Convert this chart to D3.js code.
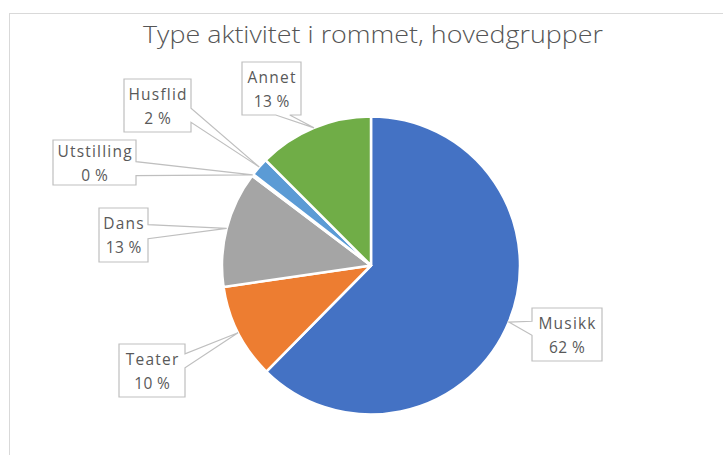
<!DOCTYPE html>
<html>
<head>
<meta charset="utf-8">
<script src="https://cdn.jsdelivr.net/npm/d3@7"></script>
<style>
  html, body { margin: 0; padding: 0; background: #fff; }
  svg { display: block; }
</style>
</head>
<body>
<div id="chart"></div>
<script>
// data
const categories = ["Musikk", "Teater", "Dans", "Utstilling", "Husflid", "Annet"];
const shares = [62.4, 10.3, 12.6, 0.2, 2.0, 12.5];
const sliceColors = ["#4472C4", "#ED7D31", "#A5A5A5", "#FFC000", "#5B9BD5", "#70AD47"];

// callout layout (box centre relative to pie centre, box size)
const labelDx = [196, -219, -247.5, -276.5, -213.5, -99.5];
const labelDy = [69, 105, -30.5, -103, -160, -177];
const labelW = [70, 66, 49, 83, 67, 59];
const labelH = [53, 53, 54, 45, 53, 53];

const width = 723, height = 455,
      cx = 371, cy = 265.5, radius = 149;

let svg = d3.select("#chart").append("svg")
  .attr("width", width)
  .attr("height", height);

// chart area border
svg.append("rect")
  .attr("x", 9.5).attr("y", 13.5)
  .attr("width", width + 20).attr("height", height + 20)
  .attr("fill", "#fff")
  .attr("stroke", "#d9d9d9");

// title
svg.append("text")
  .attr("x", 373).attr("y", 43)
  .attr("text-anchor", "middle")
  .attr("font-family", "'Open Sans', sans-serif")
  .attr("font-weight", 300)
  .attr("font-size", 24.5)
  .attr("fill", "#555")
  .attr("textLength", 460)
  .attr("lengthAdjust", "spacingAndGlyphs")
  .text("Type aktivitet i rommet, hovedgrupper");

let total = d3.sum(shares);
let pie = d3.pie().sort(null).value(d => d)(shares);
let arc = d3.arc().innerRadius(0).outerRadius(radius);

let g = svg.append("g").attr("transform", `translate(${cx},${cy})`);

g.selectAll("path.slice")
  .data(pie)
  .enter()
  .append("path")
  .attr("class", "slice")
  .attr("d", arc)
  .attr("fill", (d, i) => sliceColors[i])
  .attr("stroke", "#fff")
  .attr("stroke-width", 2.5)
  .attr("stroke-linejoin", "round");

// callout boxes with a wedge pointing at the slice edge
const calloutPath = (tx, ty, x0, y0, x1, y1) => {
  let hw = 7,
      ox = tx > x1 ? tx - x1 : (tx < x0 ? x0 - tx : 0),
      oy = ty > y1 ? ty - y1 : (ty < y0 ? y0 - ty : 0),
      mx = (x0 + x1) / 2, my = (y0 + y1) / 2,
      pts;
  if (oy >= ox * 0.8) {
    let c = (mx + Math.max(x0 + hw, Math.min(x1 - hw, tx))) / 2;
    if (ty > y1) {
      pts = [[x0, y0], [x1, y0], [x1, y1], [c + hw, y1], [tx, ty], [c - hw, y1], [x0, y1]];
    } else {
      pts = [[x0, y0], [c - hw, y0], [tx, ty], [c + hw, y0], [x1, y0], [x1, y1], [x0, y1]];
    }
  } else {
    let c = (my + Math.max(y0 + hw, Math.min(y1 - hw, ty))) / 2;
    if (tx > x1) {
      pts = [[x0, y0], [x1, y0], [x1, c - hw], [tx, ty], [x1, c + hw], [x1, y1], [x0, y1]];
    } else {
      pts = [[x0, y0], [x1, y0], [x1, y1], [x0, y1], [x0, c + hw], [tx, ty], [x0, c - hw]];
    }
  }
  return "M" + pts.map(p => p.join(",")).join("L") + "Z";
};

let labels = g.selectAll("g.label")
  .data(pie)
  .enter()
  .append("g")
  .attr("class", "label");

labels.append("path")
  .attr("d", (d, i) => {
    let a = (d.startAngle + d.endAngle) / 2,
        tx = radius * Math.sin(a),
        ty = -radius * Math.cos(a),
        bx = labelDx[i], by = labelDy[i];
    return calloutPath(tx, ty,
      bx - labelW[i] / 2, by - labelH[i] / 2,
      bx + labelW[i] / 2, by + labelH[i] / 2);
  })
  .attr("fill", "#fff")
  .attr("stroke", "#bfbfbf")
  .attr("stroke-width", 1.2);

let txt = labels.append("text")
  .attr("text-anchor", "middle")
  .attr("font-family", "'Open Sans', sans-serif")
  .attr("font-size", 15.5)
  .attr("fill", "#595959");

txt.append("tspan")
  .attr("x", (d, i) => labelDx[i] + 0.6)
  .attr("y", (d, i) => labelDy[i] - 6)
  .attr("letter-spacing", 1.2)
  .text((d, i) => categories[i]);

txt.append("tspan")
  .attr("x", (d, i) => labelDx[i] + 0.2)
  .attr("y", (d, i) => labelDy[i] + 18)
  .attr("letter-spacing", 0.4)
  .text(d => Math.round(d.value / total * 100) + " %");
</script>
</body>
</html>
